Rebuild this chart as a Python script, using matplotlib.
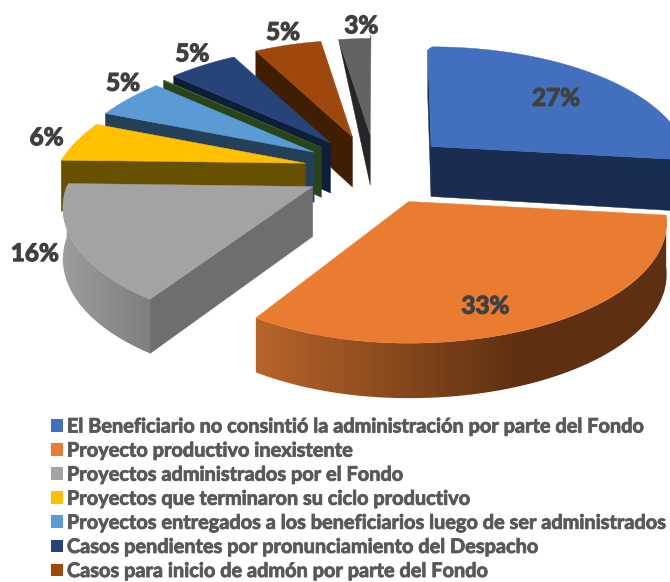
import numpy as np
import matplotlib
matplotlib.use("Agg")
import matplotlib.pyplot as plt
import matplotlib.patheffects as pe
from matplotlib.patches import Patch, Polygon
from matplotlib.colors import to_rgb

legend_names = [
    "El Beneficiario no consintió la administración por parte del Fondo",
    "Proyecto productivo inexistente",
    "Proyectos administrados por el Fondo",
    "Proyectos que terminaron su ciclo productivo",
    "Proyectos entregados a los beneficiarios luego de ser administrados",
    "Casos pendientes por pronunciamiento del Despacho",
    "Casos para inicio de admón por parte del Fondo",
]
values = [27.2, 32.2, 16.6, 5.4, 5.4, 0.1, 5.5, 5.6, 2.4]
pct_labels = ["27%", "33%", "16%", "6%", "5%", "", "5%", "5%", "3%"]

top_colors = ["#4270BF", "#E97C30", "#A3A3A3", "#FFC000", "#5B9BD5", "#43682B", "#264478", "#9E480E", "#636363"]
side_colors = ["#1A2D50", "#5E3011", "#6E6E6E", "#675000", "#234058", "#2A441A", "#0E1E38", "#3F1E02", "#262626"]
legend_idx = [0, 1, 2, 3, 4, 6, 7]

# geometry of the tilted pie, in pixels
CX, CY = 377, 170
RX_RIGHT, RX_LEFT, RY = 254, 246, 117
PERSP = 0.174
EX, EY = 73, 35
START = -1

# label nudges from the computed anchor, in pixels
nudges = [(0, 4), (-13, 19), (-8, -2), (-2, -1), (14, -9), (0, 0), (2, -3), (1, -3), (10, -3)]
# the grey slice's front edge reads a little further round than the orange one
start_skew = {2: 2.5}
# the last slice closes on the vertical, the first one opens just before it
end_skew = {8: 1.2}


def proj(a, r=1.0):
    a = np.radians(a)
    x, y = r * np.sin(a), r * np.cos(a)
    p = 1 / (1 + PERSP * y)
    if x > 0:
        return RX_RIGHT * x * p, -RY * y * p
    far = max(y, 0)
    return RX_LEFT * x * p * (1 - 0.1 * far), -RY * y * p * (1 - 0.03 * far)


def thick(a):
    return 51 - 4 * np.cos(np.radians(a))


fig = plt.figure(figsize=(6.7, 5.82), dpi=100)
ax = fig.add_axes([0, 0, 1, 1])
ax.set_xlim(0, 670)
ax.set_ylim(582, 0)
ax.axis("off")

frac = np.array(values) / sum(values) * 360
starts = START + np.concatenate([[0], np.cumsum(frac)[:-1]])
ends = starts + frac
mids = (starts + ends) / 2

# rim gradients: colour at left edge, colour at right edge, x range
rim_grad = {1: ("#B8652A", "#5E3011", 254, 520), 2: ("#9E9E9E", "#7E7E7E", 58, 152)}

# back slices first, the two big front ones last
order = [8, 7, 6, 5, 4, 3, 2, 0, 1]
z = 2
for i in order:
    s, e, m = starts[i] + start_skew.get(i, 0), ends[i] + end_skew.get(i, 0), mids[i]
    ax0 = CX + EX * np.sin(np.radians(m))
    ay0 = CY - EY * np.cos(np.radians(m))

    # radial faces
    for ang, show in ((s, s > 180 or s < 0), (e, e < 180)):
        if not show:
            continue
        rx, ry = proj(ang)
        h = 0 if ang > 340 else thick(ang)  # last slice is seen edge on at the rim
        ax.fill([ax0, ax0 + rx, ax0 + rx, ax0], [ay0, ay0 + ry, ay0 + ry + h, ay0 + 50],
                color=side_colors[i], lw=0.3, zorder=z)
        z += 1

    # outer rim
    lo, hi = max(s, 90), min(e, 270)
    if hi > lo:
        angs = np.linspace(lo, hi, 90)
        top = np.array([proj(a) for a in angs]) + [ax0, ay0]
        bot = top + np.c_[np.zeros(90), [thick(a) for a in angs]]
        outline = np.r_[top, bot[::-1]]
        if i in rim_grad:
            c0, c1, x0, x1 = rim_grad[i]
            t = np.linspace(0, 1, 256)[None, :, None]
            img = np.array(to_rgb(c0))[None, None, :] * (1 - t) + np.array(to_rgb(c1))[None, None, :] * t
            im = ax.imshow(img, extent=(x0, x1, 582, 0), aspect="auto", zorder=z)
            # past the right end of the ramp the colour stays flat
            ax.fill([x1, 670, 670, x1], [0, 0, 582, 582], color=c1, lw=0, zorder=z,
                    clip_path=Polygon(outline, transform=ax.transData))
            im.set_clip_path(Polygon(outline, transform=ax.transData))
        else:
            ax.fill(outline[:, 0], outline[:, 1], color=side_colors[i], lw=0.3, zorder=z)
        z += 1

    # top face
    angs = np.linspace(s, e, 80)
    pts = np.array([proj(a) for a in angs])
    ax.fill(np.r_[ax0, ax0 + pts[:, 0]], np.r_[ay0, ay0 + pts[:, 1]],
            color=top_colors[i], lw=0.3, zorder=z)
    z += 1

    # data label
    if pct_labels[i]:
        r = 0.72 if i < 2 else 1.13
        lx, ly = proj(m, r)
        ax.text(ax0 + lx + nudges[i][0], ay0 + ly + nudges[i][1], pct_labels[i], ha="center", va="center",
                fontsize=17.5, fontweight="bold", family="Lato", color="#404040", zorder=200,
                path_effects=[pe.withStroke(linewidth=0.9, foreground="#404040")])

ax.set_xlim(0, 670)
ax.set_ylim(582, 0)

handles = [Patch(facecolor=top_colors[i], edgecolor="none") for i in legend_idx]
leg = ax.legend(handles, legend_names, loc="upper left", bbox_to_anchor=(51 / 670, 1 - 416.5 / 582),
                frameon=False, borderpad=0, borderaxespad=0, ncol=1,
                prop={"family": "Lato", "weight": "bold", "size": 14.35}, labelcolor="#595959",
                handlelength=0.6, handleheight=0.6, handletextpad=0.2, labelspacing=0.205)
for t in leg.get_texts():
    t.set_path_effects([pe.withStroke(linewidth=0.6, foreground="#595959")])

fig.savefig("out.png", dpi=100)
